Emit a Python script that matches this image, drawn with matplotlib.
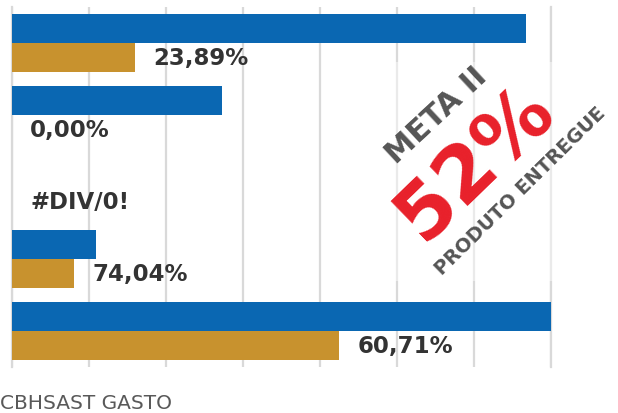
import matplotlib.pyplot as plt
from matplotlib.patches import Rectangle

# budget (blue) vs spent (gold) per line, same unit as the gridlines
orcado = [6.675, 2.727, 0.0, 1.091, 7.0]
gasto = [1.5947, 0.0, 0.0, 0.8078, 4.25]
legenda = "CBHSAST GASTO"

AZUL = "#0A67B2"
OURO = "#C8922E"
GRADE = "#D9D9D9"


def rotulo(g, o):
    # same text Excel shows for gasto/orcado
    if o == 0:
        return "#DIV/0!"
    return f"{g / o * 100:.2f}%".replace(".", ",")


fig = plt.figure(figsize=(6.18, 4.14), dpi=100)
ax = fig.add_axes([12 / 618, 1 - 368 / 414, 539 / 618, 360 / 414])

pos = list(range(len(orcado)))
h = 0.4
ax.barh([p - h / 2 for p in pos], orcado, height=h, color=AZUL, zorder=3)
ax.barh([p + h / 2 for p in pos], gasto, height=h, color=OURO, zorder=3)

for p, g, o in zip(pos, gasto, orcado):
    ax.annotate(rotulo(g, o), xy=(g, p + h / 2), xytext=(13, 0),
                textcoords="offset points", ha="left", va="center",
                fontsize=16.5, fontweight="bold", color="#333333", zorder=4)

ax.set_xlim(0, 7)
ax.set_ylim(len(orcado) - 0.5, -0.5)
ax.set_xticks(range(0, 8))
ax.set_yticks([])
ax.tick_params(axis="x", length=0, labelbottom=False)
ax.grid(axis="x", color=GRADE, lw=1.6, zorder=0)
for nome, s in ax.spines.items():
    if nome in ("left", "right"):
        s.set_color(GRADE)
        s.set_linewidth(1.6)
    else:
        s.set_visible(False)

# stamp pasted over the chart
fig.patches.append(Rectangle((395 / 618, 1 - 282 / 414), 160 / 618, 219 / 414,
                             transform=fig.transFigure, facecolor="white",
                             alpha=0.45, edgecolor="none", zorder=2))


def px(x, y):
    return x / 618, 1 - y / 414


fig.text(*px(436, 116), "META II", rotation=43, rotation_mode="anchor",
         ha="center", va="center", fontsize=22, fontweight="bold",
         color="#555555", zorder=5)
fig.text(*px(475, 163), "52%", rotation=44, rotation_mode="anchor",
         ha="center", va="center", fontsize=56, fontweight="bold",
         color="#E8202A", zorder=5)
fig.text(*px(520, 191), "PRODUTO ENTREGUE", rotation=44.5, rotation_mode="anchor",
         ha="center", va="center", fontsize=14, fontweight="bold",
         color="#555555", zorder=5)

fig.text(*px(0, 409), legenda, ha="left", va="baseline", fontsize=14.5,
         color="#595959")

fig.savefig("out.png", dpi=100)
